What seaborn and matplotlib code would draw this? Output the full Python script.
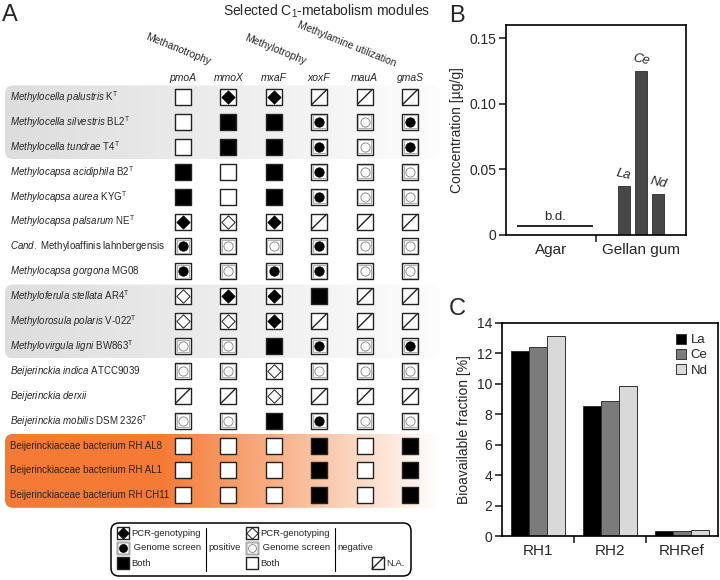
import numpy as np
import pandas as pd
import matplotlib
matplotlib.use("Agg")
import matplotlib.pyplot as plt
import seaborn as sns
from matplotlib.path import Path
from matplotlib.patches import FancyBboxPatch
from matplotlib.colors import LinearSegmentedColormap

sns.set_style("white")
plt.rcParams['font.family'] = ['Liberation Sans', 'DejaVu Sans']
plt.rcParams['mathtext.fontset'] = 'custom'
plt.rcParams['mathtext.rm'] = 'Liberation Sans'
plt.rcParams['mathtext.it'] = 'Liberation Sans:italic'
plt.rcParams['mathtext.bf'] = 'Liberation Sans:bold'

# ---- panel A data ----
genes = ["pmoA", "mmoX", "mxaF", "xoxF", "mauA", "gmaS"]
# (italic part, plain part, type strain)
organisms = [
    ("Methylocella palustris", "K", True),
    ("Methylocella silvestris", "BL2", True),
    ("Methylocella tundrae", "T4", True),
    ("Methylocapsa acidiphila", "B2", True),
    ("Methylocapsa aurea", "KYG", True),
    ("Methylocapsa palsarum", "NE", True),
    ("Cand.", "Methyloaffinis lahnbergensis", False),
    ("Methylocapsa gorgona", "MG08", False),
    ("Methyloferula stellata", "AR4", True),
    ("Methylorosula polaris", "V-022", True),
    ("Methylovirgula ligni", "BW863", True),
    ("Beijerinckia indica", "ATCC9039", False),
    ("Beijerinckia derxii", "", False),
    ("Beijerinckia mobilis", "DSM 2326", True),
    ("", "Beijerinckiaceae bacterium RH AL8", False),
    ("", "Beijerinckiaceae bacterium RH AL1", False),
    ("", "Beijerinckiaceae bacterium RH CH11", False),
]
# P/G/B = positive by PCR / genome / both, p/g/b = negative, n = N.A.
calls = [
    "bPPnnn",
    "bBBGgG",
    "bBBGgG",
    "BbBGgg",
    "BbBGgg",
    "PpPnnn",
    "GggGgg",
    "GgGGgg",
    "pPPBnn",
    "ppPnnn",
    "ggBGgG",
    "ggpggg",
    "nnpnnn",
    "ggBGgg",
    "bbbBbB",
    "bbbBbB",
    "bbbBbB",
]
grey_bands = [(0, 2), (8, 10)]
orange_bands = [(14, 16)]

# ---- panel B data ----
media = ["Agar", "Gellan gum"]
ree = ["La", "Ce", "Nd"]
conc_gellan = [0.037, 0.125, 0.031]
detection_limit = 0.007

# ---- panel C data ----
sites = ["RH1", "RH2", "RHRef"]
frac_la = [12.15, 8.55, 0.35]
frac_ce = [12.4, 8.85, 0.33]
frac_nd = [13.15, 9.85, 0.40]

NA_MARK = Path([(-1, -1), (1, 1)], [Path.MOVETO, Path.LINETO])


def draw_symbols(ax, x, y, code, k=1.0):
    sq = 118 * k * k
    face = 'black' if code == 'B' else 'white'
    ax.scatter(x, y, marker='s', s=sq, facecolors=face, edgecolors='#222222',
               linewidths=1.0, zorder=3)
    if code in 'Gg':
        ax.scatter(x, y, marker='s', s=sq * 0.74, facecolors='none',
                   edgecolors='#b0b0b0', linewidths=0.7, zorder=4)
    if code == 'G':
        ax.scatter(x, y, marker='o', s=46 * k * k, facecolors='black',
                   edgecolors='black', linewidths=0.5, zorder=5)
    if code == 'g':
        ax.scatter(x, y, marker='o', s=44 * k * k, facecolors='white',
                   edgecolors='#808080', linewidths=0.6, zorder=5)
    if code == 'P':
        ax.scatter(x, y, marker='D', s=46 * k * k, facecolors='black',
                   edgecolors='black', linewidths=0.5, zorder=5)
    if code == 'p':
        ax.scatter(x, y, marker='D', s=46 * k * k, facecolors='white',
                   edgecolors='#222222', linewidths=0.7, zorder=5)
    if code == 'n':
        ax.scatter(x, y, marker=NA_MARK, s=sq, facecolors='none',
                   edgecolors='#222222', linewidths=1.0, zorder=5)


def band(ax, r0, r1, colors, x0, x1):
    cmap = LinearSegmentedColormap.from_list('band', colors)
    grad = np.linspace(0, 1, 256).reshape(1, -1)
    top, bottom = r0 - 0.47, r1 + 0.5
    im = ax.imshow(grad, cmap=cmap, extent=(x0, x1, bottom, top),
                   aspect='auto', zorder=0, interpolation='bilinear')
    patch = FancyBboxPatch((x0, top), x1 - x0, bottom - top,
                           boxstyle='round,pad=0,rounding_size=0.18',
                           mutation_aspect=1.82, transform=ax.transData,
                           facecolor='none', edgecolor='none')
    ax.add_patch(patch)
    im.set_clip_path(patch)


fig = plt.figure(figsize=(7.2, 5.8), dpi=100)

# ================= panel A =================
axa = fig.add_axes([0, 0, 440 / 720, 1])
axa.axis('off')

for r0, r1 in grey_bands:
    band(axa, r0, r1, [(0.0, '#dddddd'), (1.0, '#fdfdfd')], -3.92, 5.66)
for r0, r1 in orange_bands:
    band(axa, r0, r1, [(0.0, '#f47a36'), (0.36, '#f47a36'), (1.0, '#ffffff')], -3.92, 5.66)

cells = pd.DataFrame([(i, j, c) for i, row in enumerate(calls)
                      for j, c in enumerate(row)], columns=['row', 'col', 'code'])
for code, grp in cells.groupby('code'):
    draw_symbols(axa, grp['col'], grp['row'], code)

for i, (it, plain, typ) in enumerate(organisms):
    parts = []
    if it:
        parts.append(r"$\mathit{" + it.replace(" ", r"\ ") + "}$")
    if plain:
        parts.append(plain)
    label = " ".join(parts)
    if typ:
        label += r"${}^{\mathrm{T}}$"
    axa.text(-3.81, i, label, fontsize=7.0, ha='left', va='center')

for j, g in enumerate(genes):
    axa.text(j, -0.76, g, fontsize=7.5, style='italic', ha='center', va='center')

axa.text(3.17, -3.45, r"Selected C$_1$-metabolism modules", fontsize=10,
         ha='center', va='center')
for (x, y, t) in [(-0.84, -2.33, "Methanotrophy"), (1.34, -2.29, "Methylotrophy"),
                  (2.51, -2.81, "Methylamine utilization")]:
    axa.text(x, y, t, fontsize=7.5, rotation=-22, rotation_mode='anchor',
             ha='left', va='baseline')

axa.set_xlim(-4.03, 5.66)
axa.set_ylim(19.40, -3.90)

# legend box for panel A
axl = fig.add_axes([110 / 720, (580 - 577) / 580, 302 / 720, 55 / 580])
axl.axis('off')
axl.set_xlim(0, 302)
axl.set_ylim(55, 0)
axl.add_patch(FancyBboxPatch((1, 1), 300, 53, boxstyle='round,pad=0,rounding_size=8',
                             facecolor='white', edgecolor='black', linewidth=1.1))
legend_rows = [11, 26, 41]
for code, lab, ry in zip("PGB", ["PCR-genotyping", " Genome screen", "Both"], legend_rows):
    draw_symbols(axl, [13], [ry], code, k=0.85)
    axl.text(21, ry, lab, fontsize=6.8, ha='left', va='center')
for code, lab, ry in zip("pgb", ["PCR-genotyping", " Genome screen", "Both"], legend_rows):
    draw_symbols(axl, [142], [ry], code, k=0.85)
    axl.text(150, ry, lab, fontsize=6.8, ha='left', va='center')
draw_symbols(axl, [268], [41], 'n', k=0.85)
axl.text(276, 41, "N.A.", fontsize=6.8, ha='left', va='center')
axl.plot([96, 96], [6, 49], color='black', lw=0.8)
axl.plot([225, 225], [6, 49], color='black', lw=0.8)
axl.text(98, 26, "positive", fontsize=6.8, ha='left', va='center')
axl.text(227, 26, "negative", fontsize=6.8, ha='left', va='center')

# ================= panel B =================
axb = fig.add_axes([506 / 720, (580 - 235) / 580, 180 / 720, 210 / 580])
df_b = pd.DataFrame({"medium": "Gellan gum", "element": ree, "conc": conc_gellan})
sns.barplot(data=df_b, x="medium", y="conc", hue="element", order=media,
            hue_order=ree, palette=["#474747"] * 3, width=0.57, gap=0.3,
            edgecolor="#2a2a2a", linewidth=0.6, legend=False, ax=axb)
for bar, el in zip(sorted([p for p in axb.patches if p.get_height() > 0],
                          key=lambda p: p.get_x()), ree):
    axb.text(bar.get_x() + bar.get_width() / 2, bar.get_height() + 0.003, el,
             fontsize=9.5, style='italic', rotation=-12, ha='center', va='bottom')
axb.hlines(detection_limit, -0.38, 0.47, color='black', lw=1.2)
axb.text(0.04, detection_limit + 0.002, "b.d.", fontsize=9.5, ha='center', va='bottom')
axb.set_xlim(-0.5, 1.5)
axb.set_ylim(0, 0.16)
axb.set_yticks([0, 0.05, 0.10, 0.15])
axb.set_yticklabels(["0", "0.05", "0.10", "0.15"])
axb.set_xticks([0, 1])
axb.set_xticklabels(media, fontsize=11)
axb.set_xticks([0.5], minor=True)
axb.tick_params(axis='x', which='major', length=0, pad=6)
axb.tick_params(axis='x', which='minor', length=5, width=1.2, direction='out', bottom=True)
axb.tick_params(axis='y', length=5, width=1.2, direction='out', left=True, labelsize=10, pad=2)
axb.set_xlabel("")
axb.set_ylabel("Concentration [µg/g]", fontsize=10, labelpad=4)
for s in axb.spines.values():
    s.set_linewidth(1.2)
    s.set_color('black')

# ================= panel C =================
axc = fig.add_axes([502 / 720, (580 - 536) / 580, 216 / 720, 213 / 580])
df_c = pd.DataFrame({
    "site": sites * 3,
    "element": ["La"] * 3 + ["Ce"] * 3 + ["Nd"] * 3,
    "frac": frac_la + frac_ce + frac_nd,
})
sns.barplot(data=df_c, x="site", y="frac", hue="element", hue_order=ree,
            palette={"La": "#000000", "Ce": "#7b7b7b", "Nd": "#d9d9d9"},
            width=0.75, edgecolor="#333333", linewidth=0.7, ax=axc)
axc.legend(loc='upper right', frameon=False, fontsize=9.5, handlelength=0.8,
           handleheight=0.8, handletextpad=0.3, labelspacing=0.2,
           borderaxespad=0.4)
axc.set_xlim(-0.5, 2.5)
axc.set_ylim(0, 14)
axc.set_yticks(range(0, 15, 2))
axc.set_xticks([0.5, 1.5], minor=True)
axc.set_xticklabels(sites, fontsize=11)
axc.tick_params(axis='x', which='major', length=0, pad=6)
axc.tick_params(axis='x', which='minor', length=5, width=1.2, direction='out', bottom=True)
axc.tick_params(axis='y', length=5, width=1.2, direction='out', left=True, labelsize=10, pad=2)
axc.set_xlabel("")
axc.set_ylabel("Bioavailable fraction [%]", fontsize=10, labelpad=4)
for s in axc.spines.values():
    s.set_linewidth(1.2)
    s.set_color('black')

# panel letters
fig.text(2 / 720, 1 - 21 / 580, "A", fontsize=17, ha='left', va='baseline')
fig.text(449 / 720, 1 - 22 / 580, "B", fontsize=17, ha='left', va='baseline')
fig.text(449 / 720, 1 - 315 / 580, "C", fontsize=17, ha='left', va='baseline')

fig.savefig("out.png", dpi=100)
